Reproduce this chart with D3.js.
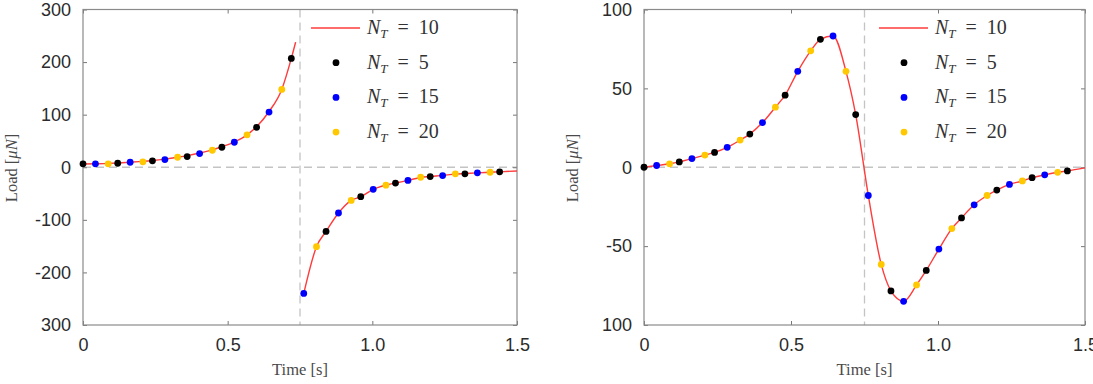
<!DOCTYPE html>
<html>
<head>
<meta charset="utf-8">
<script src="https://cdn.jsdelivr.net/npm/d3@7/dist/d3.min.js"></script>
<style>
  body { margin: 0; background: #fff; }
  .tick text { font-family: "Liberation Sans", Arial, sans-serif; font-size: 18px; fill: #2b2b2b; }
  .tick line { stroke: #777; }
</style>
</head>
<body>
<div id="chart"></div>
<script>
// sample times of the coarse/fine runs (s)
const timeN5  = [0, 0.12, 0.24, 0.36, 0.48, 0.60, 0.72, 0.84, 0.96, 1.08, 1.20, 1.32, 1.44];
const timeN15 = [0.043, 0.163, 0.283, 0.403, 0.523, 0.643, 0.763, 0.883, 1.003, 1.123, 1.243, 1.363];
const timeN20 = [0.087, 0.207, 0.327, 0.447, 0.567, 0.687, 0.807, 0.927, 1.047, 1.167, 1.287, 1.407];

// left panel loads (uN)
const leftN5  = [6.5, 7.6, 12.2, 20.3, 38, 76, 207, -122, -56, -30, -17.7, -12.5, -8.7];
const leftN15 = [6.5, 9.5, 14.6, 26, 47.5, 105, -240, -87, -42, -25, -15.8, -10.6];
const leftN20 = [6.5, 10.3, 19, 32.3, 61.6, 148, -151, -63, -34, -19, -12.5, -9.5];
// N_T = 10 reference curve, null marks the jump
const leftRefT = [0, 0.043, 0.087, 0.12, 0.163, 0.207, 0.24, 0.283, 0.327, 0.36, 0.403, 0.447, 0.48, 0.523, 0.567, 0.60, 0.643, 0.687, 0.72, 0.735,
                  0.75,
                  0.763, 0.807, 0.84, 0.883, 0.927, 0.96, 1.003, 1.047, 1.08, 1.123, 1.167, 1.20, 1.243, 1.287, 1.32, 1.363, 1.407, 1.44, 1.5];
const leftRefV = [6, 6.6, 7.3, 8.2, 9.6, 11.2, 12.8, 15.5, 19, 22, 27, 33, 39, 48, 61.6, 77, 106, 148, 207, 238,
                  null,
                  -240, -151, -122, -87, -63, -56, -42, -34, -30, -25, -19.5, -17.7, -15.5, -13, -12, -10.6, -9.5, -8.7, -7];

// right panel loads (uN)
const rightN5  = [0, 3.4, 9.4, 21.0, 45.7, 81.1, 33.4, -78.4, -65.4, -32.1, -14.5, -6.6, -2.3];
const rightN15 = [1.1, 5.5, 12.6, 28.3, 60.8, 83.2, -17.9, -85.0, -51.9, -23.8, -10.9, -4.8];
const rightN20 = [2.2, 7.7, 17.2, 38.1, 73.8, 60.8, -61.6, -74.6, -38.9, -17.9, -8.7, -3.2];
const rightRefT = [0, 0.043, 0.087, 0.12, 0.163, 0.207, 0.24, 0.283, 0.327, 0.36, 0.403, 0.447, 0.48, 0.523, 0.567, 0.60, 0.643, 0.687, 0.72,
                   0.763, 0.807, 0.84, 0.883, 0.927, 0.96, 1.003, 1.047, 1.08, 1.123, 1.167, 1.20, 1.243, 1.287, 1.32, 1.363, 1.407, 1.44, 1.5];
const rightRefV = [0, 1.1, 2.2, 3.4, 5.5, 7.7, 9.4, 12.6, 17.2, 21, 28.3, 38.1, 45.7, 60.8, 73.8, 81.1, 83.2, 60.8, 33.4,
                   -17.9, -61.6, -78.4, -85, -74.6, -65.4, -51.9, -38.9, -32.1, -23.8, -17.9, -14.5, -10.9, -8.7, -6.6, -4.8, -3.2, -2.3, -0.4];

// axes
const xTicks = [0, 0.5, 1.0, 1.5];
const xTickLabels = ["0", "0.5", "1.0", "1.5"];
const leftYTicks = [300, 200, 100, 0, -100, -200, -300];
const leftYTickLabels = ["300", "200", "100", "0", "-100", "-200", "300"];
const rightYTicks = [100, 50, 0, -50, -100];
const rightYTickLabels = ["100", "50", "0", "-50", "100"];
const jumpTime = 0.75;

// legend
const legendNT = ["10", "5", "15", "20"];
const seriesColors = { ref: "#ff3b3b", n5: "#000000", n15: "#0000ff", n20: "#ffc800" };

let svgWidth = 1093;
let svgHeight = 384;

let svg = d3.select("#chart")
  .append("svg")
  .attr("width", svgWidth)
  .attr("height", svgHeight);

function drawPanel(opt) {
  let x = d3.scaleLinear().domain([0, 1.5]).range([opt.left, opt.right]);
  let y = d3.scaleLinear().domain(opt.yDomain).range([325, 9.5]);

  let g = svg.append("g");

  // dashed guides
  g.append("line")
    .attr("x1", x(0)).attr("x2", x(1.5))
    .attr("y1", y(0)).attr("y2", y(0))
    .attr("stroke", "#c4c4c4").attr("stroke-width", 1.3)
    .attr("stroke-dasharray", "8,5");
  g.append("line")
    .attr("x1", x(jumpTime)).attr("x2", x(jumpTime))
    .attr("y1", y.range()[1]).attr("y2", y.range()[0])
    .attr("stroke", "#c4c4c4").attr("stroke-width", 1.3)
    .attr("stroke-dasharray", "8,5");

  // axes, ticks pointing inwards
  let bottom = g.append("g")
    .attr("transform", `translate(0, ${y.range()[0]})`)
    .call(d3.axisBottom(x).tickValues(xTicks).tickSize(-4).tickPadding(9)
      .tickFormat((d, i) => xTickLabels[i]));
  let top = g.append("g")
    .attr("transform", `translate(0, ${y.range()[1]})`)
    .call(d3.axisTop(x).tickValues(xTicks).tickSize(-4).tickFormat(""));
  let leftAx = g.append("g")
    .attr("transform", `translate(${x(0)}, 0)`)
    .call(d3.axisLeft(y).tickValues(opt.yTicks).tickSize(-4).tickPadding(12)
      .tickFormat((d, i) => opt.yTickLabels[i]));
  let rightAx = g.append("g")
    .attr("transform", `translate(${x(1.5)}, 0)`)
    .call(d3.axisRight(y).tickValues(opt.yTicks).tickSize(-4).tickFormat(""));
  [bottom, top, leftAx, rightAx].forEach(a => a.select(".domain").remove());
  bottom.selectAll(".tick text").attr("dy", "0.95em");

  g.append("rect")
    .attr("x", x(0)).attr("y", y.range()[1])
    .attr("width", x(1.5) - x(0)).attr("height", y.range()[0] - y.range()[1])
    .attr("fill", "none").attr("stroke", "#8a8a8a").attr("stroke-width", 1.2);

  // reference curve
  let refData = opt.refT.map((t, i) => ({ t: t, v: opt.refV[i] }));
  let line = d3.line()
    .defined(d => d.v !== null)
    .x(d => x(d.t))
    .y(d => y(d.v))
    .curve(d3.curveMonotoneX);
  g.append("path")
    .datum(refData)
    .attr("d", line)
    .attr("fill", "none")
    .attr("stroke", seriesColors.ref)
    .attr("stroke-width", 1.4);

  // discrete runs
  let runs = [
    { t: timeN5, v: opt.n5, c: seriesColors.n5 },
    { t: timeN15, v: opt.n15, c: seriesColors.n15 },
    { t: timeN20, v: opt.n20, c: seriesColors.n20 }
  ];
  runs.forEach(run => {
    g.selectAll(null)
      .data(run.t.map((t, i) => ({ t: t, v: run.v[i] })))
      .enter()
      .append("circle")
      .attr("cx", d => x(d.t))
      .attr("cy", d => y(d.v))
      .attr("r", 3.4)
      .attr("fill", run.c);
  });

  // axis labels
  let midX = (x(0) + x(1.5)) / 2;
  g.append("text")
    .attr("x", midX).attr("y", 375)
    .attr("text-anchor", "middle")
    .style("font-family", "'Liberation Serif', 'DejaVu Serif', serif")
    .style("font-size", "16.5px")
    .style("fill", "#4a4a4a")
    .text("Time [s]");

  let yl = g.append("text")
    .attr("transform", `translate(${opt.left - 66}, 168) rotate(-90)`)
    .attr("text-anchor", "middle")
    .style("font-family", "'Liberation Serif', 'DejaVu Serif', serif")
    .style("font-size", "16.5px")
    .style("fill", "#4a4a4a");
  yl.append("tspan").text("Load [");
  yl.append("tspan").style("font-style", "italic").text("\u03BCN");
  yl.append("tspan").text("]");

  // legend
  let legend = g.append("g")
    .attr("transform", `translate(${opt.legendX}, 28)`);
  let legendColors = [seriesColors.ref, seriesColors.n5, seriesColors.n15, seriesColors.n20];
  legendNT.forEach((n, i) => {
    let row = legend.append("g").attr("transform", `translate(0, ${i * 34.7})`);
    if (i === 0) {
      row.append("line")
        .attr("x1", 0).attr("x2", 49)
        .attr("stroke", legendColors[i]).attr("stroke-width", 1.4);
    } else {
      row.append("circle")
        .attr("cx", 25).attr("cy", 0).attr("r", 3.4)
        .attr("fill", legendColors[i]);
    }
    let txt = row.append("text")
      .attr("x", 56).attr("y", 6)
      .style("font-family", "'Liberation Serif', 'DejaVu Serif', serif")
      .style("font-size", "20px")
      .style("fill", "#333");
    txt.append("tspan").style("font-style", "italic").text("N");
    txt.append("tspan").style("font-style", "italic").style("font-size", "13px")
      .attr("dy", 4).text("T");
    txt.append("tspan").attr("dy", -4).text("\u2002=\u2002" + n);
  });
}

drawPanel({
  left: 83, right: 517, yDomain: [-300, 300],
  yTicks: leftYTicks, yTickLabels: leftYTickLabels,
  refT: leftRefT, refV: leftRefV,
  n5: leftN5, n15: leftN15, n20: leftN20,
  legendX: 311
});

drawPanel({
  left: 644, right: 1085, yDomain: [-100, 100],
  yTicks: rightYTicks, yTickLabels: rightYTickLabels,
  refT: rightRefT, refV: rightRefV,
  n5: rightN5, n15: rightN15, n20: rightN20,
  legendX: 879
});
</script>
</body>
</html>
